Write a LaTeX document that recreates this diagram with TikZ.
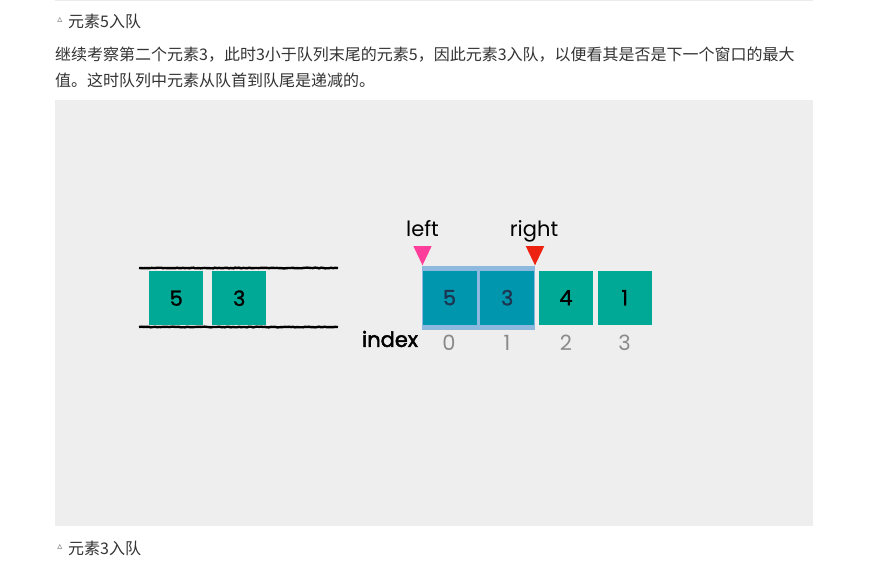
\documentclass[tikz,border=0pt]{standalone}
\usepackage{fontspec}
\setmainfont{Liberation Sans}
\newfontfamily\cjk{Noto Sans CJK SC}
\newfontfamily\geo{Poppins}
\newfontfamily\geom{Poppins}[FakeBold=1.2]
\newfontfamily\geob{Poppins}[FakeBold=2.2]
\newfontfamily\dvs{DejaVu Sans}
\usetikzlibrary{decorations.pathmorphing}
\definecolor{bgray}{HTML}{EEEEEE}
\definecolor{teal1}{HTML}{00A896}
\definecolor{blue1}{HTML}{0097AE}
\definecolor{hilite}{HTML}{8DB9DE}
\definecolor{navy}{HTML}{1C3550}
\definecolor{txt}{HTML}{333333}
\definecolor{pinktri}{HTML}{FF3D9A}
\definecolor{redtri}{HTML}{EE2211}
\definecolor{idxgray}{HTML}{8A8A8A}
\tikzset{
  cell/.style={fill=#1, minimum width=54pt, minimum height=54pt, inner sep=0pt, anchor=north west, font=\geom\fontsize{21}{21}\selectfont},
  para/.style={font=\cjk\fontsize{16}{16}\selectfont, text=txt, anchor=west, inner sep=0pt},
  rough/.style={line width=2.4pt, black, decorate, decoration={random steps, segment length=2pt, amplitude=0.35pt}},
  lbl/.style={font=\geo\fontsize{21}{21}\selectfont, inner sep=0pt, anchor=base},
  idx/.style={font=\geo\fontsize{21}{21}\selectfont, text=idxgray, inner sep=0pt}
}
\begin{document}
\begin{tikzpicture}[x=1pt,y=-1pt]
\useasboundingbox (0,0) rectangle (896,567);
\fill[white] (0,0) rectangle (896,567);
\draw[line width=1pt, black!8] (55,1) -- (813,1);
% heading
\node[font=\dvs\fontsize{10}{10}\selectfont, text=black!55, inner sep=0pt] (t1) at (60,20) {▵};
\node[para] (h1) at (68,21) {元素5入队};
\node[para] (p1) at (55,55) {继续考察第二个元素3，此时3小于队列末尾的元素5，因此元素3入队，以便看其是否是下一个窗口的最大};
\node[para] (p2) at (55,80) {值。这时队列中元素从队首到队尾是递减的。};
% gray panel
\fill[bgray] (55,100) rectangle (813,526);
% queue
\draw[rough] (139,268) -- (338,268);
\draw[rough] (139,327) -- (338,327);
\node[cell=teal1] (q0) at (149,271) {5};
\node[cell=teal1] (q1) at (212,271) {3};
% array
\fill[hilite] (421.5,265.5) rectangle (535,329.5);
\node[cell=blue1, text=navy] (a0) at (422.3,270.5) {5};
\node[cell=blue1, text=navy] (a1) at (480,270.5) {3};
\node[cell=teal1] (a2) at (538.7,270.5) {4};
\node[cell=teal1] (a3) at (597.5,270.5) {1};
\node[idx] (i0) at (449,343) {0};
\node[idx] (i1) at (507,343) {1};
\node[idx] (i2) at (566,343) {2};
\node[idx] (i3) at (624.5,343) {3};
\node[font=\geob\fontsize{21}{21}\selectfont, inner sep=0pt] (ix) at (390,339) {index};
% pointers
\fill[pinktri] (413.3,246) -- (431.7,246) -- (422.5,265.3) -- cycle;
\fill[redtri] (525.7,246) -- (544.3,246) -- (535,265.3) -- cycle;
\node[lbl] (lf) at (422.5,236) {left};
\node[lbl] (rt) at (534,236) {right};
% bottom heading
\node[font=\dvs\fontsize{10}{10}\selectfont, text=black!55, inner sep=0pt] (t2) at (60,547) {▵};
\node[para] (h2) at (68,548) {元素3入队};
\end{tikzpicture}
\end{document}
